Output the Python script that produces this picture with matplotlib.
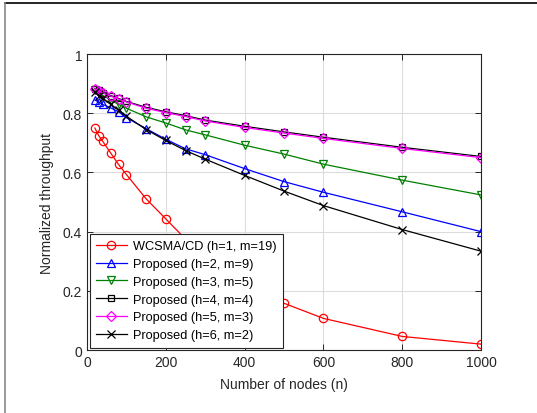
import numpy as np
import matplotlib
matplotlib.use("Agg")
import matplotlib.pyplot as plt
from matplotlib.lines import Line2D

plt.rcParams['font.family'] = ['Liberation Sans', 'DejaVu Sans']

# number of nodes
n = [20, 30, 40, 60, 80, 100, 150, 200, 250, 300, 400, 500, 600, 800, 1000]

# normalized throughput per scheme
wcsma = [0.750, 0.724, 0.705, 0.666, 0.627, 0.593, 0.511, 0.443, 0.375, 0.325, 0.240, 0.158, 0.107, 0.046, 0.020]
h2m9 = [0.845, 0.837, 0.830, 0.818, 0.805, 0.785, 0.748, 0.712, 0.680, 0.660, 0.613, 0.569, 0.533, 0.467, 0.400]
h3m5 = [0.877, 0.868, 0.860, 0.845, 0.830, 0.817, 0.788, 0.767, 0.744, 0.727, 0.692, 0.662, 0.628, 0.574, 0.524]
h4m4 = [0.883, 0.877, 0.870, 0.860, 0.850, 0.840, 0.820, 0.805, 0.792, 0.777, 0.756, 0.737, 0.719, 0.685, 0.654]
h5m3 = [0.882, 0.875, 0.868, 0.858, 0.848, 0.838, 0.817, 0.802, 0.789, 0.774, 0.752, 0.733, 0.715, 0.681, 0.650]
h6m2 = [0.872, 0.860, 0.850, 0.830, 0.810, 0.790, 0.745, 0.708, 0.674, 0.645, 0.590, 0.537, 0.488, 0.407, 0.334]

labels = ['WCSMA/CD (h=1, m=19)', 'Proposed (h=2, m=9)', 'Proposed (h=3, m=5)',
          'Proposed (h=4, m=4)', 'Proposed (h=5, m=3)', 'Proposed (h=6, m=2)']

fig = plt.figure(figsize=(5.37, 4.14), dpi=100)
ax = fig.add_axes([0.162, 0.152, 0.734, 0.715])

kw = dict(linewidth=0.9, markersize=6, markerfacecolor='none', markeredgewidth=0.9)
ax.plot(n, wcsma, color='#ff0000', marker='o', label=labels[0], **kw)
ax.plot(n, h2m9, color='#0000ff', marker='^', label=labels[1], **kw)
ax.plot(n, h3m5, color='#008000', marker='v', label=labels[2], **kw)
ax.plot(n, h4m4, color='black', marker='s', label=labels[3], linewidth=0.9, markersize=5,
        markerfacecolor='none', markeredgewidth=0.9)
ax.plot(n, h5m3, color='#ff00ff', marker='D', label=labels[4], linewidth=0.9, markersize=5,
        markerfacecolor='none', markeredgewidth=0.9)
ax.plot(n, h6m2, color='black', marker='x', label=labels[5], **kw)

ax.set_xlim(0, 1000)
ax.set_ylim(0, 1)
ax.set_xticks([0, 200, 400, 600, 800, 1000])
ax.set_yticks([0, 0.2, 0.4, 0.6, 0.8, 1])
ax.set_yticklabels(['0', '0.2', '0.4', '0.6', '0.8', '1'])
ax.grid(True, color='#dcdcdc', linewidth=0.8)
ax.set_axisbelow(True)
ax.tick_params(direction='in', top=True, right=True, length=4, labelsize=10,
               colors='#262626', width=0.7)
for s in ax.spines.values():
    s.set_color('#262626')
    s.set_linewidth(0.8)

ax.set_xlabel('Number of nodes (n)', fontsize=10, color='#262626', labelpad=6)
ax.set_ylabel('Normalized throughput', fontsize=10, color='#262626', labelpad=6)

leg = ax.legend(loc='lower left', fontsize=9.2, fancybox=False, framealpha=1,
                edgecolor='#262626', borderaxespad=0.2, handlelength=2.4,
                borderpad=0.5, labelspacing=0.45, handletextpad=0.5)
leg.get_frame().set_linewidth(0.8)

# thin outer frame lines seen on the picture
fig.add_artist(Line2D([4.5 / 537, 1], [1 - 4 / 414, 1 - 4 / 414], color='black', linewidth=1.2))
fig.add_artist(Line2D([4.5 / 537, 4.5 / 537], [0, 1 - 4 / 414], color='#888888', linewidth=1.2))

fig.savefig('out.png', dpi=100)
